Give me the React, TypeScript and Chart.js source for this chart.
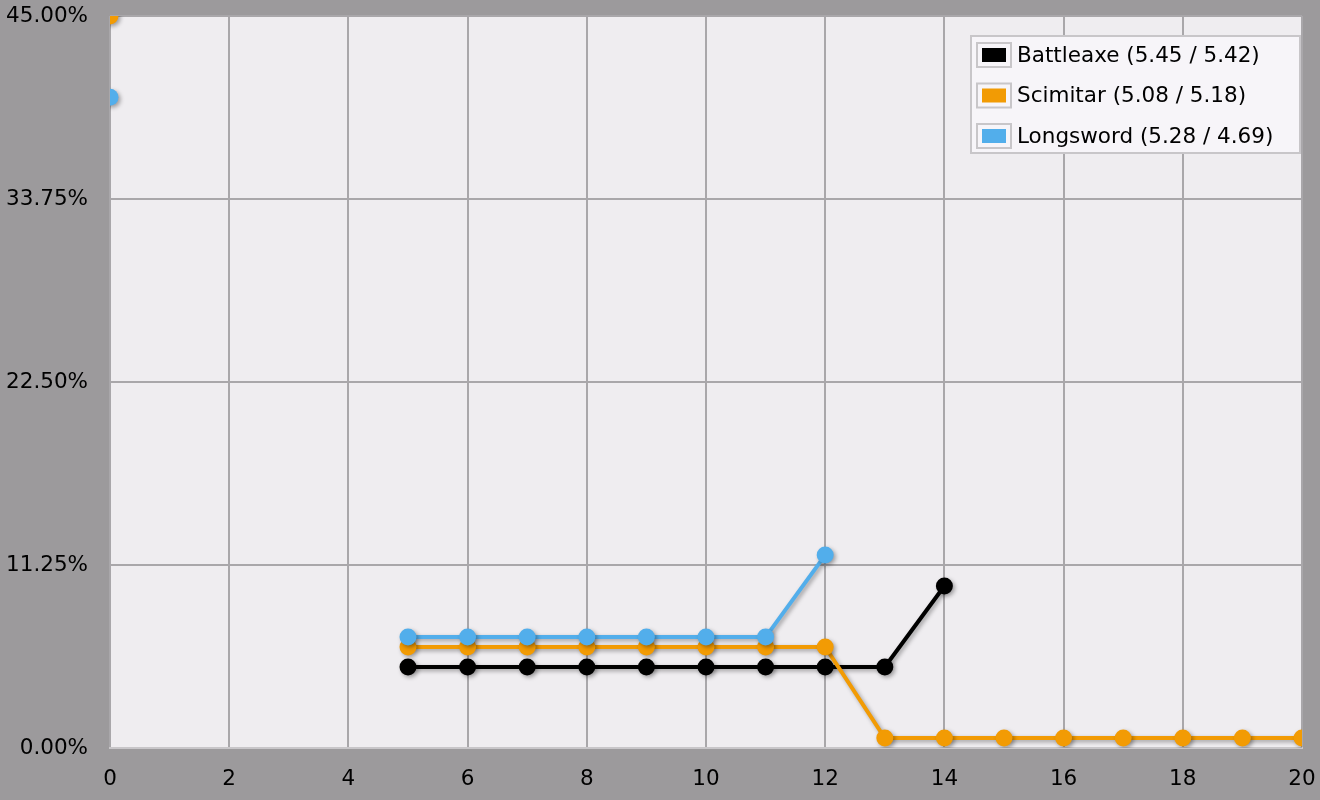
import React, { useEffect, useRef } from "react";
import { Chart, registerables } from "chart.js";

Chart.register(...registerables);

const xValues = [0, 1, 2, 3, 4, 5, 6, 7, 8, 9, 10, 11, 12, 13, 14, 15, 16, 17, 18, 19, 20];
const battleaxe = [null, null, null, null, null, 4.98, 4.98, 4.98, 4.98, 4.98, 4.98, 4.98, 4.98, 4.98, 9.96, null, null, null, null, null, null];
const scimitar = [45, null, null, null, null, 6.21, 6.21, 6.21, 6.21, 6.21, 6.21, 6.21, 6.21, 0.61, 0.61, 0.61, 0.61, 0.61, 0.61, 0.61, 0.61];
const longsword = [40.0, null, null, null, null, 6.82, 6.82, 6.82, 6.82, 6.82, 6.82, 6.82, 11.86, null, null, null, null, null, null, null, null];
const seriesLabels = ["Battleaxe (5.45 / 5.42)", "Scimitar (5.08 / 5.18)", "Longsword (5.28 / 4.69)"];
const seriesColors = ["#000000", "#f29b04", "#52aeeb"];
const yTicks = [0, 11.25, 22.5, 33.75, 45];

const FONT = "'DejaVu Sans', Verdana, sans-serif";

function toPoints(arr: (number | null)[]) {
  return xValues.map((x, i) => ({ x, y: arr[i] }));
}

export default function App() {
  const ref = useRef<HTMLCanvasElement | null>(null);
  useEffect(() => {
    if (!ref.current) return;
    const bgPlugin = {
      id: "plotBg",
      beforeDraw(chart: any) {
        const { ctx, chartArea } = chart;
        ctx.save();
        ctx.fillStyle = "#efedf0";
        ctx.fillRect(chartArea.left, chartArea.top, chartArea.right - chartArea.left, chartArea.bottom - chartArea.top);
        ctx.restore();
      },
    };
    const shadowPlugin = {
      id: "shadow",
      beforeDatasetDraw(chart: any) {
        const ctx = chart.ctx;
        ctx.save();
        ctx.shadowColor = "rgba(0,0,0,0.35)";
        ctx.shadowBlur = 4;
        ctx.shadowOffsetX = 2;
        ctx.shadowOffsetY = 2;
      },
      afterDatasetDraw(chart: any) {
        chart.ctx.restore();
      },
    };
    const legendPlugin = {
      id: "boxLegend",
      afterDraw(chart: any) {
        const ctx = chart.ctx;
        ctx.save();
        const bx = 971, by = 36, bw = 329, bh = 117;
        ctx.fillStyle = "#f7f5f9";
        ctx.fillRect(bx, by, bw, bh);
        ctx.strokeStyle = "#c8c6c9";
        ctx.lineWidth = 2;
        ctx.strokeRect(bx, by, bw, bh);
        ctx.font = `21.5px ${FONT}`;
        ctx.textBaseline = "middle";
        seriesLabels.forEach((lab, i) => {
          const cy = 55 + i * 40.5;
          ctx.fillStyle = "#f7f5f9";
          ctx.fillRect(977, cy - 12, 34, 24);
          ctx.strokeStyle = "#c8c6c9";
          ctx.lineWidth = 2;
          ctx.strokeRect(977, cy - 12, 34, 24);
          ctx.fillStyle = seriesColors[i];
          ctx.fillRect(982, cy - 7, 24, 14);
          ctx.fillStyle = "#000000";
          ctx.fillText(lab, 1017, cy + 1);
        });
        ctx.restore();
      },
    };
    const mk = (label: string, data: (number | null)[], color: string) => ({
      label,
      data: toPoints(data),
      borderColor: color,
      backgroundColor: color,
      pointBackgroundColor: color,
      pointBorderColor: color,
      borderWidth: 4,
      pointRadius: 8.5,
      pointBorderWidth: 0,
      spanGaps: false,
      tension: 0,
    });
    const chart = new Chart(ref.current, {
      type: "line",
      data: {
        datasets: [
          mk(seriesLabels[2], longsword, seriesColors[2]),
          mk(seriesLabels[1], scimitar, seriesColors[1]),
          mk(seriesLabels[0], battleaxe, seriesColors[0]),
        ],
      },
      options: {
        animation: false,
        responsive: false,
        devicePixelRatio: 1,
        layout: { padding: { left: 0, top: 16, right: 18, bottom: 0 } },
        plugins: { legend: { display: false }, tooltip: { enabled: false } },
        scales: {
          x: {
            type: "linear",
            min: 0,
            max: 20,
            ticks: { stepSize: 2, color: "#000", font: { family: FONT, size: 21.5 }, padding: 19, maxRotation: 0 },
            grid: { color: "#a9a7aa", lineWidth: 2, drawTicks: false },
            border: { display: true, color: "#c8c6c9", width: 2 },
            afterFit(scale: any) {
              scale.height = 52;
              scale.paddingLeft = 0;
              scale.paddingRight = 0;
            },
          },
          y: {
            min: 0,
            max: 45,
            afterBuildTicks(scale: any) { scale.ticks = yTicks.map((v) => ({ value: v })); },
            ticks: {
              color: "#000",
              font: { family: FONT, size: 21.5 },
              padding: 22,
              callback: (v: any) => Number(v).toFixed(2) + "%",
            },
            grid: { color: "#a9a7aa", lineWidth: 2, drawTicks: false },
            border: { display: false },
            afterFit(scale: any) {
              scale.width = 110;
              scale.paddingTop = 0;
              scale.paddingBottom = 0;
            },
          },
        },
      },
      plugins: [bgPlugin, shadowPlugin, legendPlugin],
    } as any);
    return () => chart.destroy();
  }, []);
  return (
    <div style={{ position: "fixed", left: 0, top: 0, width: 1320, height: 800, background: "#9c9a9c" }}>
      <canvas ref={ref} width={1320} height={800} style={{ display: "block" }} />
    </div>
  );
}
